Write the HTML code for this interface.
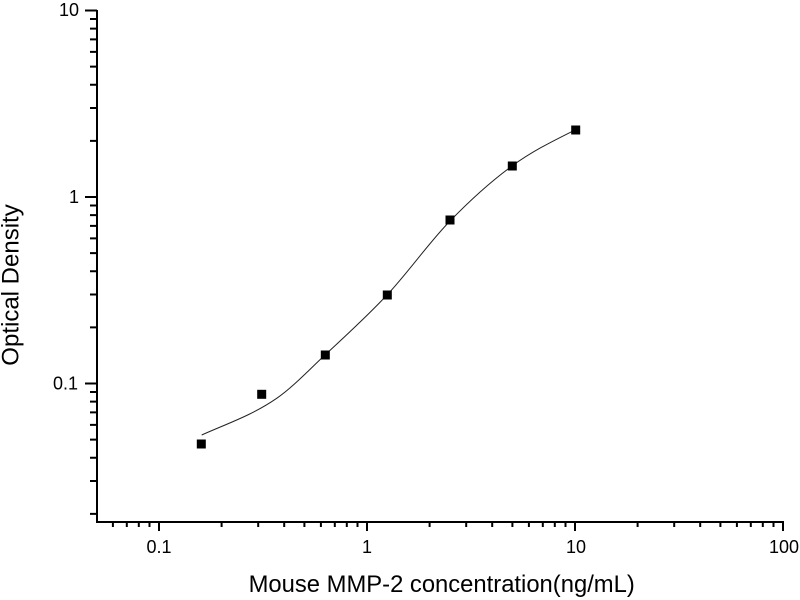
<!DOCTYPE html>
<html>
<head>
<meta charset="utf-8">
<style>
html,body{margin:0;padding:0;background:#fff;}
svg{display:block;}
text{font-family:"Liberation Sans",Arial,sans-serif;fill:#000;}
</style>
</head>
<body>
<svg width="800" height="600" viewBox="0 0 800 600" xmlns="http://www.w3.org/2000/svg">
<rect x="0" y="0" width="800" height="600" fill="#fff"/>
<g stroke="#000" stroke-width="2" fill="none">
  <!-- axes -->
  <line x1="97" y1="10" x2="97" y2="523"/>
  <line x1="96" y1="522" x2="784" y2="522"/>
  <!-- y major ticks -->
  <line x1="85" y1="10.5" x2="97" y2="10.5"/>
  <line x1="85" y1="197" x2="97" y2="197"/>
  <line x1="85" y1="383.5" x2="97" y2="383.5"/>
  <!-- y minor ticks -->
  <path d="M90 513.9H97M90 481H97M90 457.7H97M90 439.6H97M90 424.9H97M90 412.4H97M90 401.6H97M90 392H97
           M90 327.4H97M90 294.5H97M90 271.2H97M90 253.1H97M90 238.4H97M90 225.9H97M90 215.1H97M90 205.5H97
           M90 140.9H97M90 108H97M90 84.7H97M90 66.6H97M90 51.9H97M90 39.4H97M90 28.6H97M90 19H97"/>
  <!-- x major ticks -->
  <line x1="159" y1="522" x2="159" y2="531"/>
  <line x1="367" y1="522" x2="367" y2="531"/>
  <line x1="575" y1="522" x2="575" y2="531"/>
  <line x1="783" y1="522" x2="783" y2="531"/>
  <!-- x minor ticks -->
  <path d="M112.9 522V527M126.8 522V527M138.8 522V527M149.5 522V527
           M221.6 522V527M258.2 522V527M284.2 522V527M304.4 522V527M320.9 522V527M334.8 522V527M346.8 522V527M357.5 522V527
           M429.6 522V527M466.2 522V527M492.2 522V527M512.4 522V527M528.9 522V527M542.8 522V527M554.8 522V527M565.5 522V527
           M637.6 522V527M674.2 522V527M700.2 522V527M720.4 522V527M736.9 522V527M750.8 522V527M762.8 522V527M773.5 522V527"/>
</g>
<!-- fitted curve -->
<path d="M201.7 435 C226.7 423.75 251.7 415.55 276.7 398.3 C292.8 387.2 308.9 370 325 355 C345.67 335.78 366.33 317.1 387 295 C408 272.53 429 242.63 450 221 C470.67 199.71 491.33 181.09 512 166 C533 150.67 554 140.5 575 130"
      fill="none" stroke="#222" stroke-width="1"/>
<!-- data points -->
<g fill="#000">
  <rect x="196.8" y="439.5" width="9" height="9"/>
  <rect x="257.2" y="389.8" width="9" height="9"/>
  <rect x="320.8" y="350.5" width="9" height="9"/>
  <rect x="382.8" y="290.5" width="9" height="9"/>
  <rect x="445.5" y="215.5" width="9" height="9"/>
  <rect x="507.8" y="161.5" width="9" height="9"/>
  <rect x="571.2" y="125.5" width="9" height="9"/>
</g>
<!-- y tick labels -->
<g font-size="18" text-anchor="end">
  <text x="79" y="16">10</text>
  <text x="79" y="203">1</text>
  <text x="78" y="389.5">0.1</text>
</g>
<!-- x tick labels -->
<g font-size="18" text-anchor="middle">
  <text x="159" y="553">0.1</text>
  <text x="367" y="553">1</text>
  <text x="576" y="553">10</text>
  <text x="784" y="553">100</text>
</g>
<!-- axis titles -->
<text x="441.7" y="592" font-size="23.8" text-anchor="middle">Mouse MMP-2 concentration(ng/mL)</text>
<text transform="translate(18.5,285) rotate(-90)" font-size="24" text-anchor="middle">Optical Density</text>
</svg>
</body>
</html>
